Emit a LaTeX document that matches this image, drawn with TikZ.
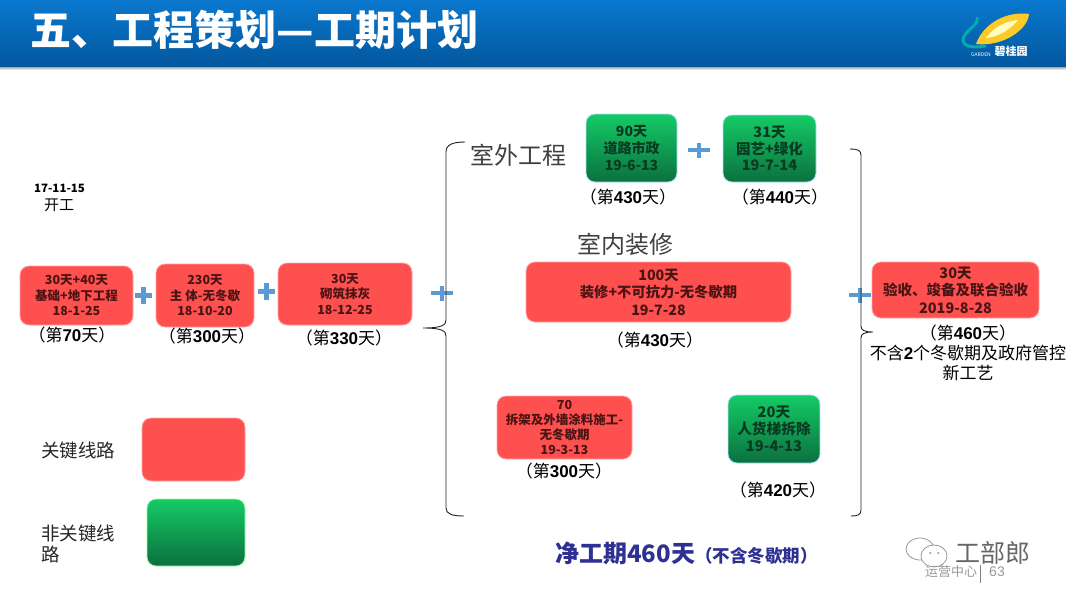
\documentclass[tikz,border=0pt]{standalone}
\usepackage{fontspec}
\setmainfont{Noto Sans CJK SC}
\newfontfamily\latfont{Liberation Sans}
\definecolor{redfill}{HTML}{FF5050}
\definecolor{redtext}{HTML}{4A1414}
\definecolor{greentop}{HTML}{14CB66}
\definecolor{greenbot}{HTML}{0B703F}
\definecolor{greentext}{HTML}{0A3A22}
\definecolor{plusblue}{HTML}{5B9BD5}
\definecolor{headtop}{HTML}{0A78CE}
\definecolor{headbot}{HTML}{03579E}
\definecolor{netblue}{HTML}{2E3192}
\definecolor{bracegray}{HTML}{222222}
\newcommand{\fsz}[2]{\fontsize{#1}{#2}\selectfont}
\newcommand{\dg}[1]{{\latfont\bfseries #1}}
\tikzset{
	critbox/.style={draw=red!35!white, line width=0.8pt, fill=redfill, rounded corners=9pt, inner sep=0pt, align=center, text=redtext},
	freebox/.style={draw=cyan!35!white, line width=0.8pt, top color=greentop, bottom color=greenbot, rounded corners=9pt, inner sep=0pt, align=center, text=greentext},
	daylabel/.style={inner sep=0pt, align=center, font=\fsz{17}{20}},
	grouplabel/.style={inner sep=0pt, text=black!75, font=\fsz{24}{28}},
	legendlabel/.style={inner sep=0pt, anchor=west, align=left, text=black!85, font=\fsz{18.5}{21}},
	bracket/.style={draw=bracegray, line width=0.9pt},
	plusbig/.pic={
		\fill[plusblue] (-8.5,-2.5) rectangle (8.5,2.5);
		\fill[plusblue] (-2.5,-8.5) rectangle (2.5,8.5);
	},
	pluswide/.pic={
		\fill[plusblue] (-11,-2) rectangle (11,2);
		\fill[plusblue] (-2.2,-7.5) rectangle (2.2,7.5);
	}
}
\begin{document}
\begin{tikzpicture}[x=1pt, y=-1pt]
	\useasboundingbox (0,0) rectangle (1066,600);

	% Header band
	\shade[top color=black!45, bottom color=white] (0,66) rectangle (1066,70);
	\shade[top color=headtop, bottom color=headbot] (0,0) rectangle (1066,66);
	\node[inner sep=0pt, text=white, font=\fsz{41}{44}\bfseries] (title) at (254.5,30) {五、工程策划—工期计划};

	% Logo
	\fill[yellow!55!orange!85!white] (976,44) .. controls (984,22) and (1008,11) .. (1029,14) .. controls (1028,29) and (1004,47) .. (976,44);
	\fill[yellow!25!white] (986,38) .. controls (994,27) and (1006,21) .. (1018,20) .. controls (1010,30) and (998,37) .. (986,38);
	\draw[teal!65!cyan, line width=3pt, line cap=round] (977,18) .. controls (979,26) and (964,30) .. (963,40) .. controls (963,47) and (975,48) .. (985,46);
	\node[inner sep=0pt, text=white, font=\fsz{5}{6}] (logoen) at (981,55) {GARDEN};
	\node[inner sep=0pt, text=white, font=\fsz{11}{12}\bfseries] (logocn) at (1011,51) {碧桂园};

	% Start date
	\node[inner sep=0pt, font=\fsz{11.5}{12}\bfseries] (startdate) at (59.5,188) {17-11-15};
	\node[inner sep=0pt, font=\fsz{15}{18}] (startlabel) at (59,205) {开工};

	% Red boxes
	\foreach \nm/\xc/\yc/\bw/\bh/\sz/\ld/\txt in {
		foundation/76.5/295.5/113/59/12.5/15.5/{30天+40天\\基础+地下工程\\18-1-25},
		structure/205/295.5/98/63/12.5/15.5/{230天\\主 体-无冬歇\\18-10-20},
		masonry/345/294/134/62/12.5/15.5/{30天\\砌筑抹灰\\18-12-25},
		fitout/658.5/292/265/60/14.3/17.5/{100天\\装修+不可抗力-无冬歇期\\19-7-28},
		facade/564.5/427.5/135/63/12.5/15.3/{70\\拆架及外墙涂料施工-\\无冬歇期\\19-3-13},
		accept/955.5/290/167/56/14.5/17.5/{30天\\验收、竣备及联合验收\\2019-8-28}}
		\node[critbox, minimum width=\bw, minimum height=\bh, font=\fsz{\sz}{\ld}\bfseries] (\nm) at (\xc,\yc) {\txt};

	% Green boxes
	\foreach \nm/\xc/\yc/\bw/\bh/\sz/\ld/\txt in {
		road/631.5/148/91/68/14/16.8/{90天\\道路市政\\19-6-13},
		garden/769.5/148.5/93/67/14.5/16.8/{31天\\园艺+绿化\\19-7-14},
		hoist/774/429/92/68/14.7/16.8/{20天\\人货梯拆除\\19-4-13}}
		\node[freebox, minimum width=\bw, minimum height=\bh, font=\fsz{\sz}{\ld}\bfseries] (\nm) at (\xc,\yc) {\txt};

	% Day labels
	\foreach \nm/\xc/\yc/\txt in {
		dayA/72/335/{（第\dg{70}天）},
		dayB/207/336/{（第\dg{300}天）},
		dayC/344/338/{（第\dg{330}天）},
		dayD/628/197/{（第\dg{430}天）},
		dayE/780/197/{（第\dg{440}天）},
		dayF/655/340/{（第\dg{430}天）},
		dayG/564/471/{（第\dg{300}天）},
		dayH/778/490/{（第\dg{420}天）},
		dayI/968/353/{（第\dg{460}天）\\不含\dg{2}个冬歇期及政府管控\\新工艺}}
		\node[daylabel] (\nm) at (\xc,\yc) {\txt};

	% Group labels
	\node[grouplabel] (outdoor) at (518,155) {室外工程};
	\node[grouplabel] (indoor) at (625,244) {室内装修};

	% Plus signs
	\pic at (143.5,295) {plusbig};
	\pic at (266.5,291) {plusbig};
	\pic at (442,293) {pluswide};
	\pic at (699,150) {pluswide};
	\pic at (860,295) {pluswide};

	% Brackets
	\coordinate (lefttop) at (465,142);
	\coordinate (lefttip) at (423,328);
	\coordinate (leftend) at (464,516);
	\coordinate (righttop) at (850,149);
	\coordinate (righttip) at (873,332);
	\coordinate (rightend) at (851,516);
	\draw[bracket] (lefttop) .. controls (452,142) and (446,145) .. (446,152) -- (446,320) .. controls (446,325) and (442,328) .. (lefttip) .. controls (442,328) and (446,331) .. (446,336) -- (446,508) .. controls (446,514) and (452,516) .. (leftend);
	\draw[bracket] (righttop) .. controls (857,149) and (861,150) .. (861,155) -- (861,326) .. controls (861,330) and (864,332) .. (righttip) .. controls (864,332) and (861,334) .. (861,338) -- (861,510) .. controls (861,515) and (857,516) .. (rightend);

	% Legend
	\node[legendlabel] (critlabel) at (41,450) {关键线路};
	\node[critbox, minimum width=103, minimum height=63] (critkey) at (193.5,449.5) {};
	\node[legendlabel] (freelabel) at (41,543.5) {非关键线\\路};
	\node[freebox, draw=green!40!white, minimum width=98, minimum height=67] (freekey) at (196,532.5) {};

	% Net period
	\node[inner sep=0pt, text=netblue] (netperiod) at (686.5,553) {\fsz{24}{26}\bfseries 净工期460天\fsz{17.5}{26}（不含冬歇期）};

	% Watermark
	\draw[black!45, line width=0.7pt, fill=white] (920,549) ellipse (14 and 11);
	\draw[black!45, line width=0.7pt, fill=white] (934,556) ellipse (13 and 11);
	\fill[black!45] (930,553) circle (1) (938,553) circle (1);
	\node[inner sep=0pt, text=black!60, font=\fsz{25}{28}] (brand) at (993,553) {工部郎};
	\node[inner sep=0pt, text=black!40, font=\fsz{13}{14}] (dept) at (951,572) {运营中心};
	\node[inner sep=0pt, text=black!40, font=\fsz{14}{14}\latfont] (pageno) at (997,572) {63};
	\draw[black!50, line width=0.7pt] (dept.north east) ++(3,-1) -- ++(0,18);
\end{tikzpicture}
\end{document}
